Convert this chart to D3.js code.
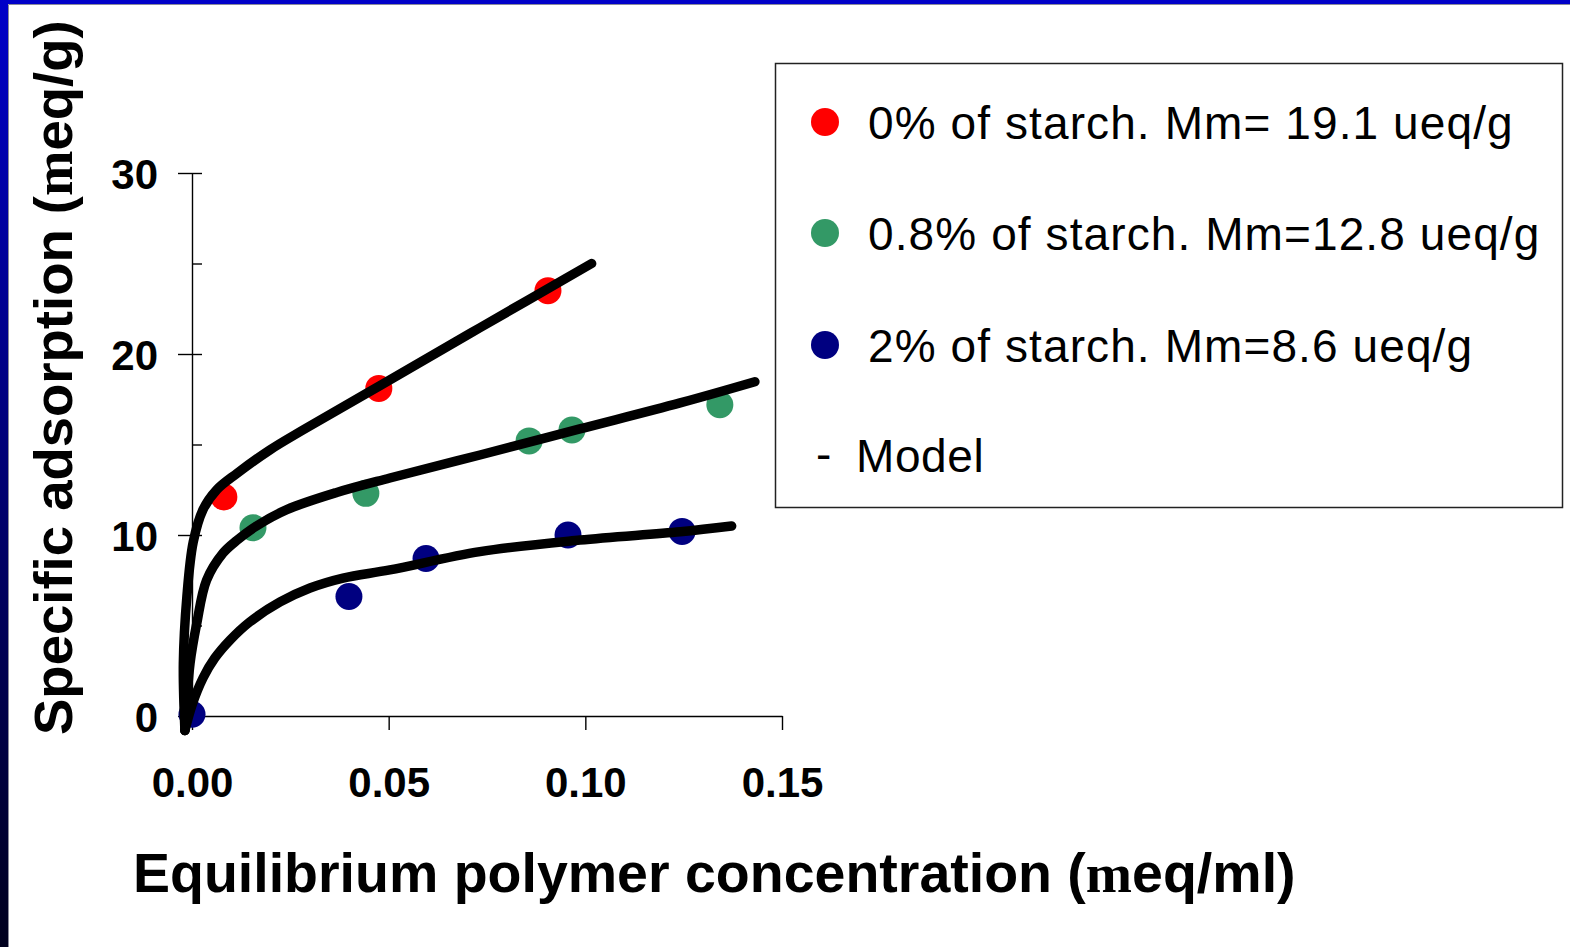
<!DOCTYPE html>
<html>
<head>
<meta charset="utf-8">
<script src="https://cdn.jsdelivr.net/npm/d3@7"></script>
<style>
  html, body { margin: 0; padding: 0; background: #fff; }
  svg { display: block; }
</style>
</head>
<body>
<svg id="chart" width="1570" height="947"></svg>
<script>
// ---- data ----
const xTickValues = [0, 0.05, 0.10, 0.15];
const yTickValues = [0, 10, 20, 30];
const yMinorTickValues = [0, 5, 10, 15, 20, 25, 30];

const seriesNames = [
  "0% of starch. Mm= 19.1 ueq/g",
  "0.8% of starch. Mm=12.8 ueq/g",
  "2% of starch. Mm=8.6 ueq/g"
];
const seriesColors = ["#ff0000", "#339966", "#000080"];

// measured adsorption points [concentration, adsorption]
const starch0 = [[0.0081, 12.1], [0.0475, 18.1], [0.0905, 23.5]];
const starch08 = [[0.0155, 10.4], [0.0442, 12.3], [0.0857, 15.2], [0.0966, 15.8], [0.1342, 17.2]];
const starch2 = [[0.0, 0.1], [0.0399, 6.6], [0.0595, 8.7], [0.0956, 10.0], [0.1246, 10.2]];

// model isotherms
const model0 = [[-0.0018, -0.8], [-0.0022, 2.9], [-0.0013, 6.6], [0.0003, 9.6], [0.0028, 11.4],
  [0.0063, 12.5], [0.0114, 13.4], [0.0198, 14.7], [0.0282, 15.8], [0.0478, 18.25],
  [0.0732, 21.45], [0.1016, 25.0]];
const model08 = [[-0.0018, -0.8], [-0.0005, 2.9], [0.0012, 5.1], [0.0037, 7.5], [0.0079, 9.0],
  [0.0114, 9.7], [0.0164, 10.5], [0.0241, 11.4], [0.0368, 12.35], [0.0503, 13.15],
  [0.0732, 14.42], [0.0986, 15.86], [0.1241, 17.3], [0.1431, 18.47]];
const model2 = [[-0.0018, -0.8], [0.0, 0.6], [0.0028, 2.1], [0.0058, 3.2], [0.0097, 4.2],
  [0.0147, 5.2], [0.0224, 6.3], [0.0300, 7.07], [0.0384, 7.62], [0.0503, 8.07],
  [0.0732, 9.08], [0.0986, 9.72], [0.1241, 10.18], [0.1372, 10.5]];

const pointSets = [starch0, starch08, starch2];
const modelSets = [model0, model08, model2];

// ---- drawing ----
const svg = d3.select("#chart");
const W = 1570, H = 947;

// slide frame: blue band on top and a shaded band on the left
const defs = svg.append("defs");
const grad = defs.append("linearGradient").attr("id", "sideBand")
  .attr("x1", 0).attr("y1", 0).attr("x2", 0).attr("y2", 1);
grad.append("stop").attr("offset", "0%").attr("stop-color", "#0000c8");
grad.append("stop").attr("offset", "100%").attr("stop-color", "#00001e");

svg.append("rect").attr("x", 0).attr("y", 0).attr("width", W).attr("height", H).attr("fill", "#fff");
svg.append("rect").attr("x", 0).attr("y", 0).attr("width", W).attr("height", 4).attr("fill", "#0000c8");
svg.append("rect").attr("x", 0).attr("y", 0).attr("width", 8).attr("height", H).attr("fill", "url(#sideBand)");
svg.append("path").attr("d", `M8.5,${H} V4.5 H${W}`).attr("fill", "none")
  .attr("stroke", "#8a8a9a").attr("stroke-width", 1);

const x = d3.scaleLinear().domain([0, 0.15]).range([192, 782]);
const y = d3.scaleLinear().domain([0, 30]).range([716, 173]);

const tickFont = "Liberation Sans, Arial, sans-serif";
const serifFont = "Liberation Serif, Times New Roman, serif";

// y axis: major ticks with labels
const yAxisG = svg.append("g").attr("transform", "translate(192,0)")
  .call(d3.axisLeft(y).tickValues(yTickValues).tickSize(14).tickSizeOuter(0)
    .tickPadding(20).tickFormat(d3.format("d")));
// inner tick marks (major and minor)
const yInnerG = svg.append("g").attr("transform", "translate(192,0)")
  .call(d3.axisRight(y).tickValues(yMinorTickValues).tickSize(10).tickFormat(""));
yInnerG.select(".domain").remove();

// x axis
const xAxisG = svg.append("g").attr("transform", "translate(0,716)")
  .call(d3.axisBottom(x).tickValues(xTickValues).tickSize(14).tickSizeOuter(0)
    .tickPadding(37).tickFormat(d3.format(".2f")));

[yAxisG, yInnerG, xAxisG].forEach(g => {
  g.selectAll("path, line").attr("stroke", "#000").attr("stroke-width", 1.4);
  g.selectAll("text").attr("fill", "#000").attr("font-family", tickFont)
    .attr("font-weight", "bold").attr("font-size", 42);
});
yAxisG.selectAll("text").attr("dy", "0.36em");

// data points
pointSets.forEach((pts, i) => {
  svg.append("g").selectAll("circle").data(pts).join("circle")
    .attr("cx", d => x(d[0])).attr("cy", d => y(d[1])).attr("r", 13.5)
    .attr("fill", seriesColors[i]);
});

// model curves
const line = d3.line().x(d => x(d[0])).y(d => y(d[1])).curve(d3.curveCatmullRom.alpha(0.5));
modelSets.forEach(m => {
  svg.append("path").datum(m).attr("d", line)
    .attr("fill", "none").attr("stroke", "#000").attr("stroke-width", 9.5)
    .attr("stroke-linecap", "round").attr("stroke-linejoin", "round");
});

// axis titles
const xTitle = svg.append("text").attr("x", 133).attr("y", 892)
  .attr("font-family", tickFont).attr("font-weight", "bold").attr("font-size", 55.5)
  .attr("fill", "#000");
xTitle.append("tspan").text("Equilibrium polymer concentration (");
xTitle.append("tspan").attr("font-family", serifFont).text("m");
xTitle.append("tspan").text("eq/ml)");

const yTitle = svg.append("text").attr("transform", "translate(72,735) rotate(-90)")
  .attr("font-family", tickFont).attr("font-weight", "bold").attr("font-size", 54.5)
  .attr("fill", "#000");
yTitle.append("tspan").text("Specific adsorption (");
yTitle.append("tspan").attr("font-family", serifFont).text("m");
yTitle.append("tspan").text("eq/g)");

// legend
const legend = svg.append("g");
legend.append("rect").attr("x", 775.5).attr("y", 63.5).attr("width", 787).attr("height", 444)
  .attr("fill", "#fff").attr("stroke", "#222").attr("stroke-width", 1.5);
const legendRows = [122, 233, 345];
seriesNames.forEach((name, i) => {
  legend.append("circle").attr("cx", 825).attr("cy", legendRows[i]).attr("r", 14)
    .attr("fill", seriesColors[i]);
  legend.append("text").attr("x", 868).attr("y", legendRows[i] + 17)
    .attr("font-family", tickFont).attr("font-size", 46).attr("letter-spacing", 1.1)
    .attr("fill", "#000").text(name);
});
legend.append("text").attr("x", 816).attr("y", 470)
  .attr("font-family", tickFont).attr("font-size", 46).attr("fill", "#000").text("-");
legend.append("text").attr("x", 856).attr("y", 472)
  .attr("font-family", tickFont).attr("font-size", 46).attr("letter-spacing", 0.6)
  .attr("fill", "#000").text("Model");
</script>
</body>
</html>
